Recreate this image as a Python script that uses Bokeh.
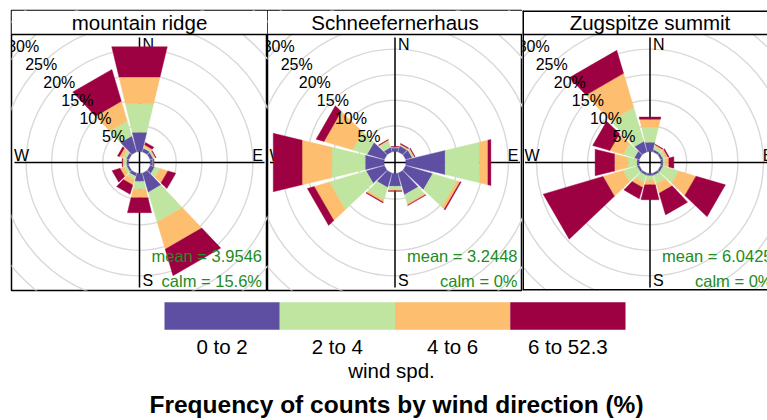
import numpy as np
from bokeh.plotting import figure
from bokeh.layouts import row, column
from bokeh.models import Range1d
from bokeh.embed import file_html
from bokeh.resources import INLINE
from bokeh.core.properties import value

# ---------------- data (percent of counts per direction & speed class) ----------------
directions = [0, 30, 60, 90, 120, 150, 180, 210, 240, 270, 300, 330]
speed_labels = ["0 to 2", "2 to 4", "4 to 6", "6 to 52.3"]
sites = ["mountain ridge", "Schneefernerhaus", "Zugspitze summit"]
mean_ws = ["3.9546", "3.2448", "6.0425"]
calm_pct = ["15.6", "0", "0"]
grid_pct = [5, 10, 15, 20, 25, 30]
extra_rings = [35, 40, 45]

ridge_0_2 = [3.9, 0.7, 0.6, 0.5, 0.9, 3.9, 1.6, 0.6, 0.4, 0.4, 0.5, 3.2]
ridge_2_4 = [5.7, 0.3, 0.3, 0.1, 1.1, 6.1, 1.6, 0.7, 0.6, 0.5, 0.7, 3.1]
ridge_4_6 = [5.4, 0.4, 0.2, 0.05, 1.6, 5.5, 1.7, 1.1, 0.8, 0.3, 0.7, 4.0]
ridge_6_up = [6.1, 0.5, 0.1, 0.05, 1.6, 5.4, 3.0, 1.9, 1.6, 0.1, 0.4, 6.5]

schnee_0_2 = [0.7, 1.2, 1.3, 7.9, 5.5, 4.4, 2.6, 2.9, 3.7, 3.8, 3.5, 0.9]
schnee_2_4 = [0.1, 0.2, 0.3, 6.9, 5.0, 1.8, 0.7, 2.6, 7.5, 6.7, 3.0, 1.3]
schnee_4_6 = [0.1, 0.15, 0.2, 1.7, 0.6, 0.3, 0.2, 0.4, 3.1, 6.0, 5.8, 0.2]
schnee_6_up = [0.1, 0.15, 0.1, 0.6, 0.2, 0.1, 0.1, 0.15, 1.4, 5.8, 1.6, 0.1]

zug_0_2 = [1.9, 0.45, 0.45, 0.45, 0.45, 0.45, 0.45, 0.45, 0.45, 0.45, 1.0, 2.15]
zug_2_4 = [3.05, 0.65, 0.55, 0.45, 3.25, 1.75, 0.95, 1.45, 2.85, 1.8, 2.3, 6.85]
zug_4_6 = [1.55, 0.3, 0.5, 0.7, 3.5, 1.9, 0.9, 1.0, 4.1, 2.7, 2.7, 7.0]
zug_6_up = [0.45, 0.1, 0.2, 1.0, 6.0, 4.4, 3.0, 2.3, 12.2, 3.9, 3.5, 4.7]

site_bins = [
    [ridge_0_2, ridge_2_4, ridge_4_6, ridge_6_up],
    [schnee_0_2, schnee_2_4, schnee_4_6, schnee_6_up],
    [zug_0_2, zug_2_4, zug_4_6, zug_6_up],
]

# ---------------- style / layout ----------------
COLOURS = ["#5E4FA2", "#BFE5A0", "#FDBE6F", "#9E0142"]
GREEN = "#228B22"
GRID = "#D9D9D9"
FONT = value("Liberation Sans")
PX = 5.11          # pixels per percent
OFF = 2.2          # hole offset (percent units)
HALF_W = 13.5      # half angular width of a bar (deg)
HALF_PX = 128.0    # plot-region half size in px
STRIP_PX = 24.0
R_CARD = 118.0 / PX
AX_LEN = 125.0 / PX


def make_panel(idx, frame_w, centre_px, extra_left=0, outline=True):
    H = HALF_PX / PX
    p = figure(width=frame_w + extra_left, height=292,
               x_range=Range1d(-centre_px / PX, (frame_w - centre_px) / PX),
               y_range=Range1d(-HALF_PX / PX, (HALF_PX + STRIP_PX) / PX),
               output_backend="svg", toolbar_location=None,
               x_axis_location=None, y_axis_location=None,
               min_border_left=extra_left, min_border_right=0,
               min_border_top=10, min_border_bottom=2,
               background_fill_color="white", border_fill_color="white")
    p.grid.visible = False
    if outline:
        p.outline_line_color = "black"
        p.outline_line_width = 1.5
    else:
        p.outline_line_color = None

    # grid circles
    radii = [OFF] + [OFF + g for g in grid_pct + extra_rings]
    p.circle(x=[0] * len(radii), y=[0] * len(radii), radius=radii,
             fill_color=None, line_color=GRID, line_width=1.4)
    # axes cross
    p.segment(x0=[-AX_LEN, 0], y0=[0, -AX_LEN], x1=[AX_LEN, 0], y1=[0, AX_LEN],
              line_color="black", line_width=1.5)
    # cardinal labels
    p.text(x=[0, 0], y=[R_CARD, -R_CARD], text=["N", "S"], x_offset=3,
           text_align="left", text_baseline="middle", text_font=FONT,
           text_font_size="16px", text_color="black")
    p.text(x=[R_CARD, -R_CARD], y=[7.0 / PX, 7.0 / PX], text=["E", "W"],
           text_align="center", text_baseline="middle", text_font=FONT,
           text_font_size="16px", text_color="black")

    # bars (stacked trapezoids)
    bins = np.array(site_bins[idx])
    cum = np.cumsum(bins, axis=0)
    xs, ys, cols = [], [], []
    for j, d in enumerate(directions):
        a1 = np.radians(d - HALF_W)
        a2 = np.radians(d + HALF_W)
        for k in range(len(speed_labels)):
            r1 = OFF + (cum[k - 1, j] if k > 0 else 0.0)
            r2 = OFF + cum[k, j]
            xs.append([r1 * np.sin(a1), r1 * np.sin(a2), r2 * np.sin(a2), r2 * np.sin(a1)])
            ys.append([r1 * np.cos(a1), r1 * np.cos(a2), r2 * np.cos(a2), r2 * np.cos(a1)])
            cols.append(COLOURS[k])
    p.patches(xs, ys, fill_color=cols, line_color=cols, line_width=0.4)

    # percentage labels along 315 deg
    lr = np.array([OFF + g for g in grid_pct])
    p.text(x=list(-lr * np.sin(np.pi / 4)), y=list(lr * np.cos(np.pi / 4)),
           text=[f"{g}%" for g in grid_pct], text_align="center",
           text_baseline="middle", text_font=FONT, text_font_size="16px",
           text_color="black")

    # mean / calm
    xr = 122.5 / PX
    p.text(x=[xr, xr], y=[-93.8 / PX, -118.1 / PX],
           text=[f"mean = {mean_ws[idx]}", f"calm = {calm_pct[idx]}%"],
           text_align="right", text_baseline="middle", text_font=FONT,
           text_font_size="16.5px", text_color=GREEN)

    # strip
    x0 = -centre_px / PX
    x1 = (frame_w - centre_px) / PX
    p.quad(left=x0, right=x1, bottom=H, top=H + STRIP_PX / PX,
           fill_color="white", line_color=None)
    p.segment(x0=[x0], y0=[H], x1=[x1], y1=[H], line_color="black", line_width=1.5)
    p.text(x=[0], y=[H + 12.2 / PX], text=[sites[idx]], text_align="center",
           text_baseline="middle", text_font=FONT, text_font_size="20.5px",
           text_color="black")
    if not outline:
        top = H + STRIP_PX / PX
        p.segment(x0=[x0, x0, x0], y0=[top, -H, -H], x1=[x1, x1, x0], y1=[top, -H, top],
                  line_color="black", line_width=3)
    return p


p1 = make_panel(0, 256, 128.0, extra_left=11)
p2 = make_panel(1, 255, 127.5)
p3 = make_panel(2, 245, 127.5, outline=False)

# ---------------- key and titles ----------------
leg = figure(width=767, height=128, x_range=Range1d(0, 767), y_range=Range1d(420, 292),
             output_backend="svg", toolbar_location=None,
             x_axis_location=None, y_axis_location=None,
             min_border=0, background_fill_color="white", border_fill_color="white")
leg.grid.visible = False
leg.outline_line_color = None
key_left, key_w = 164.0, 115.25
lefts = [key_left + i * key_w for i in range(len(speed_labels))]
leg.quad(left=lefts, right=[l + key_w for l in lefts], top=301.7, bottom=329.3,
         fill_color=COLOURS, line_color=None)
leg.text(x=[l + key_w / 2 for l in lefts], y=[346.0] * len(lefts), text=speed_labels,
         text_align="center", text_baseline="middle", text_font=FONT,
         text_font_size="20.5px", text_color="black")
leg.text(x=[391], y=[370.0], text=["wind spd."], text_align="center",
         text_baseline="middle", text_font=FONT, text_font_size="20.5px",
         text_color="black")
leg.text(x=[396], y=[403.5], text=["Frequency of counts by wind direction (%)"],
         text_align="center", text_baseline="middle", text_font=FONT,
         text_font_size="24.5px", text_font_style="bold", text_color="black")

layout = column(row(p1, p2, p3, spacing=0), leg, spacing=0)
open("out.html", "w").write(file_html(layout, INLINE))
